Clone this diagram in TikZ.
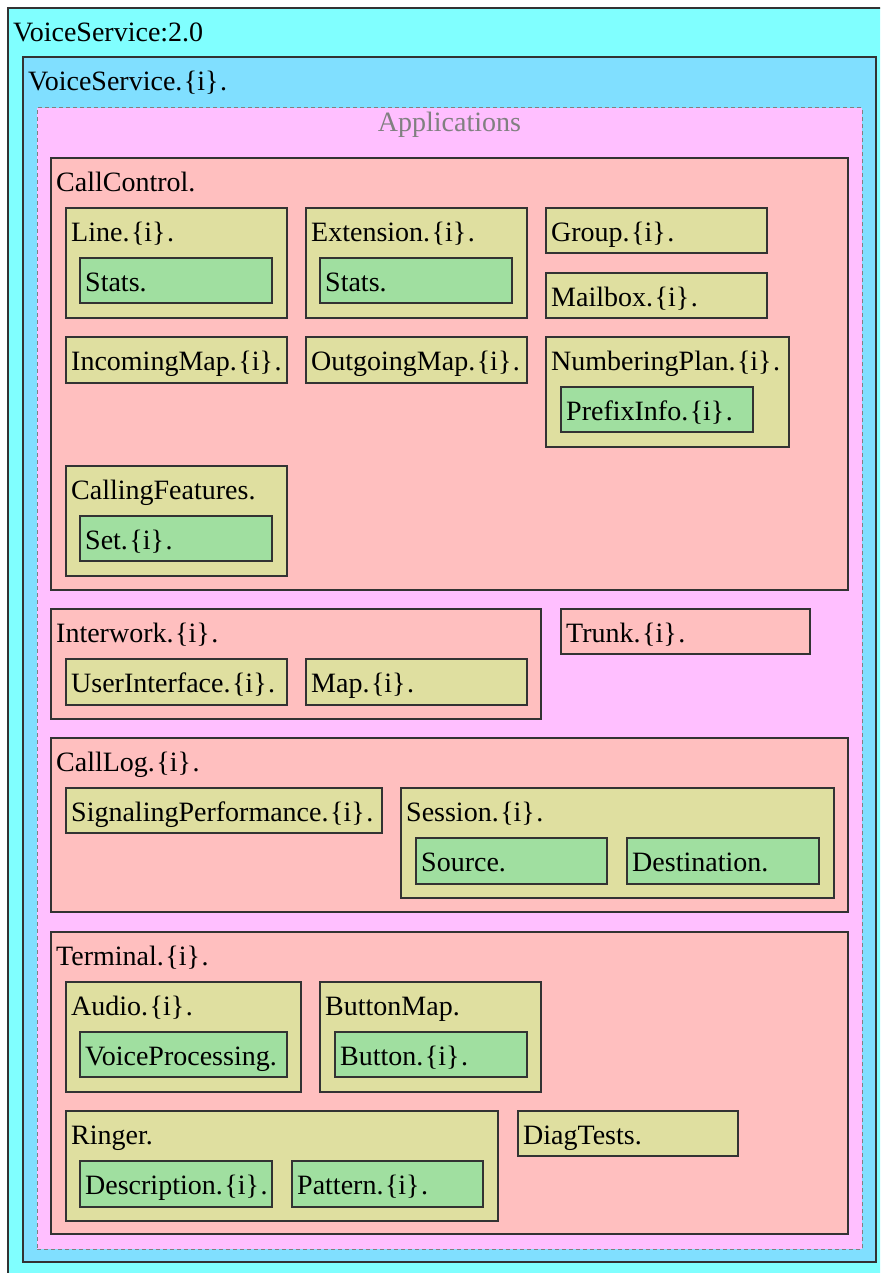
\documentclass[tikz,border=0pt]{standalone}
\usepackage{fontspec}
\setmainfont{Liberation Serif}
\usetikzlibrary{positioning, calc}
\definecolor{lvlzero}{HTML}{80FFFF}
\definecolor{lvlone}{HTML}{80DFFF}
\definecolor{appfill}{HTML}{FFBFFF}
\definecolor{objfill}{HTML}{FFBFBF}
\definecolor{subfill}{HTML}{DFDFA0}
\definecolor{leaffill}{HTML}{A0DFA0}
\definecolor{edge}{HTML}{333333}
\tikzset{
  frame/.style   ={rectangle, draw=edge, line width=1.3pt, anchor=north west,
                   inner sep=0pt, outer sep=0pt},
  lvlzerobox/.style={frame, fill=lvlzero},
  lvlonebox/.style ={frame, fill=lvlone},
  appbox/.style  ={frame, draw=gray, dashed, dash pattern=on 4pt off 3pt, line width=1pt, fill=appfill},
  objbox/.style  ={frame, fill=objfill},
  subbox/.style  ={frame, fill=subfill},
  leafbox/.style ={frame, fill=leaffill},
  lbl/.style     ={anchor=base west, inner sep=0pt, font=\fontsize{28}{32}\selectfont},
  applbl/.style  ={anchor=base, inner sep=0pt, text=gray, font=\fontsize{28}{32}\selectfont}
}
% instance suffix, as printed: .{i}.
\newcommand{\inst}{.\kern1.5pt\{i\}\kern1.5pt.}
% name, style, x, y, width, height, text
\newcommand{\drawobj}[7]{%
  \node[#2, minimum width=#5pt, minimum height=#6pt] (#1) at (#3,#4) {};
  \node[lbl] (#1-lbl) at ([xshift=5pt,yshift=-33.5pt]#1.north west) {#7};
}

\begin{document}
\begin{tikzpicture}[x=1pt, y=-1pt]
    \clip (0,0) rectangle (880,1273);
    \drawobj{vs}{lvlzerobox}{8}{8}{892}{1285}{VoiceService:2.0}
    \drawobj{vsi}{lvlonebox}{23}{57}{853}{1205}{VoiceService\inst}
    \node[appbox, minimum width=825pt, minimum height=1141pt] (apps) at (37,108) {};
    \node[applbl] (apps-lbl) at ([yshift=-24pt]apps.north) {Applications};
    % CallControl
    \drawobj{callctl}{objbox}{51}{158}{797}{432}{CallControl.}
    \drawobj{line}{subbox}{66}{208}{221}{110}{Line\inst}
    \drawobj{linestats}{leafbox}{80}{258}{192}{45}{Stats.}
    \drawobj{ext}{subbox}{306}{208}{221}{110}{Extension\inst}
    \drawobj{extstats}{leafbox}{320}{258}{192}{45}{Stats.}
    \drawobj{group}{subbox}{546}{208}{221}{45}{Group\inst}
    \drawobj{mailbox}{subbox}{546}{273}{221}{45}{Mailbox\inst}
    \drawobj{inmap}{subbox}{66}{337}{221}{46}{IncomingMap\inst}
    \drawobj{outmap}{subbox}{306}{337}{221}{46}{OutgoingMap\inst}
    \drawobj{numplan}{subbox}{546}{337}{243}{110}{NumberingPlan\inst}
    \drawobj{prefix}{leafbox}{561}{387}{192}{45}{PrefixInfo\inst}
    \drawobj{callfeat}{subbox}{66}{466}{221}{110}{CallingFeatures.}
    \drawobj{featset}{leafbox}{80}{516}{192}{45}{Set\inst}
    % Interwork, Trunk
    \drawobj{interwork}{objbox}{51}{609}{490}{110}{Interwork\inst}
    \drawobj{ui}{subbox}{66}{659}{221}{46}{UserInterface\inst}
    \drawobj{iwmap}{subbox}{306}{659}{221}{46}{Map\inst}
    \drawobj{trunk}{objbox}{561}{609}{249}{45}{Trunk\inst}
    % CallLog
    \drawobj{calllog}{objbox}{51}{738}{797}{174}{CallLog\inst}
    \drawobj{sigperf}{subbox}{66}{788}{316}{45}{SignalingPerformance\inst}
    \drawobj{session}{subbox}{401}{788}{433}{110}{Session\inst}
    \drawobj{source}{leafbox}{416}{838}{191}{46}{Source.}
    \drawobj{dest}{leafbox}{627}{838}{192}{46}{Destination.}
    % Terminal
    \drawobj{terminal}{objbox}{51}{932}{797}{302}{Terminal\inst}
    \drawobj{audio}{subbox}{66}{982}{235}{110}{Audio\inst}
    \drawobj{voiceproc}{leafbox}{80}{1032}{207}{45}{VoiceProcessing.}
    \drawobj{buttonmap}{subbox}{320}{982}{221}{110}{ButtonMap.}
    \drawobj{button}{leafbox}{335}{1032}{192}{45}{Button\inst}
    \drawobj{ringer}{subbox}{66}{1111}{432}{110}{Ringer.}
    \drawobj{desc}{leafbox}{80}{1161}{192}{46}{Description\inst}
    \drawobj{pattern}{leafbox}{292}{1161}{191}{46}{Pattern\inst}
    \drawobj{diag}{subbox}{518}{1111}{220}{45}{DiagTests.}
  \end{tikzpicture}
\end{document}
